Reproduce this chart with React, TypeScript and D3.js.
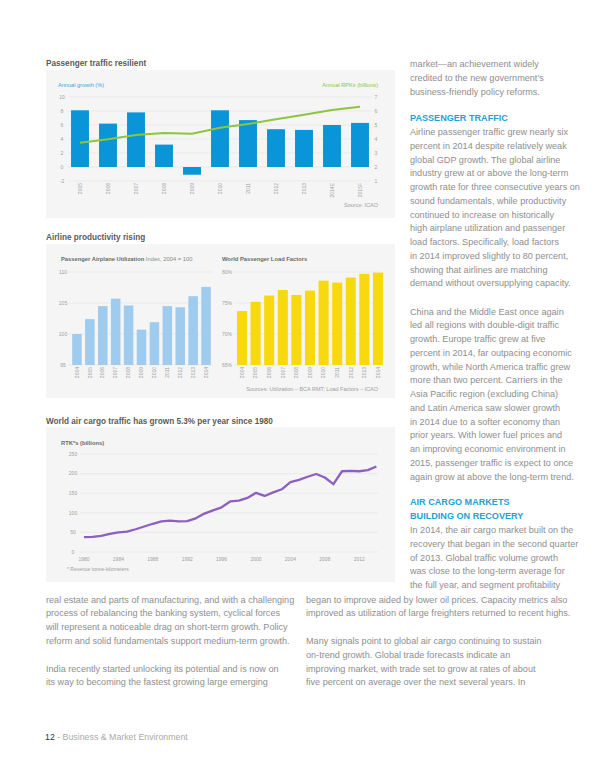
import React from 'react';
import * as d3 from 'd3';

// ---------- DATA ----------
const paxYears = ['2005', '2006', '2007', '2008', '2009', '2010', '2011', '2012', '2013', '2014E', '2015F'];
const paxGrowth = [8.1, 6.2, 7.8, 3.2, -1.1, 8.1, 6.7, 5.4, 5.3, 6.0, 6.3];
const paxRpks = [3.74, 3.98, 4.29, 4.43, 4.38, 4.81, 5.07, 5.41, 5.74, 6.07, 6.31];
const growthTicks = [10, 8, 6, 4, 2, 0, -2];
const rpkTicks = [7, 6, 5, 4, 3, 2, 1];

const utilYears = ['2004', '2005', '2006', '2007', '2008', '2009', '2010', '2011', '2012', '2013', '2014'];
const utilIndex = [100.0, 102.4, 104.5, 105.7, 104.6, 100.7, 101.9, 104.5, 104.3, 106.1, 107.6];
const utilTicks = [110, 105, 100, 95];
const loadYears = ['2004', '2005', '2006', '2007', '2008', '2009', '2010', '2011', '2012', '2013', '2014'];
const loadFactors = [73.7, 75.2, 76.2, 77.1, 76.3, 77.0, 78.6, 78.3, 79.1, 79.7, 79.9];
const loadTicks = [80, 75, 70, 65];

const cargoYears = [1980, 1981, 1982, 1983, 1984, 1985, 1986, 1987, 1988, 1989, 1990, 1991, 1992, 1993, 1994, 1995, 1996, 1997, 1998, 1999, 2000, 2001, 2002, 2003, 2004, 2005, 2006, 2007, 2008, 2009, 2010, 2011, 2012, 2013, 2014];
const cargoRtk = [38, 38.5, 41, 46, 50, 52, 58, 65, 72, 78, 80, 78, 79, 86, 98, 106, 114, 129, 131, 138, 151, 143, 152, 160, 178, 184, 192, 199, 190, 173, 206, 207, 206, 209, 218];
const cargoYTicks = [0, 50, 100, 150, 200, 250];
const cargoXTicks = [1980, 1984, 1988, 1992, 1996, 2000, 2004, 2008, 2012];

const rightParaA = [
  'market\u2014an achievement widely',
  'credited to the new government\u2019s',
  'business-friendly policy reforms.',
];
const rightHeadA = ['PASSENGER TRAFFIC'];
const rightParaB = [
  'Airline passenger traffic grew nearly six',
  'percent in 2014 despite relatively weak',
  'global GDP growth. The global airline',
  'industry grew at or above the long-term',
  'growth rate for three consecutive years on',
  'sound fundamentals, while productivity',
  'continued to increase on historically',
  'high airplane utilization and passenger',
  'load factors. Specifically, load factors',
  'in 2014 improved slightly to 80 percent,',
  'showing that airlines are matching',
  'demand without oversupplying capacity.',
];
const rightParaC = [
  'China and the Middle East once again',
  'led all regions with double-digit traffic',
  'growth. Europe traffic grew at five',
  'percent in 2014, far outpacing economic',
  'growth, while North America traffic grew',
  'more than two percent. Carriers in the',
  'Asia Pacific region (excluding China)',
  'and Latin America saw slower growth',
  'in 2014 due to a softer economy than',
  'prior years. With lower fuel prices and',
  'an improving economic environment in',
  '2015, passenger traffic is expect to once',
  'again grow at above the long-term trend.',
];
const rightHeadB = ['AIR CARGO MARKETS', 'BUILDING ON RECOVERY'];
const rightParaD = [
  'In 2014, the air cargo market built on the',
  'recovery that began in the second quarter',
  'of 2013. Global traffic volume growth',
  'was close to the long-term average for',
  'the full year, and segment profitability',
];
const bottomLeft = [
  'real estate and parts of manufacturing, and with a challenging',
  'process of rebalancing the banking system, cyclical forces',
  'will represent a noticeable drag on short-term growth. Policy',
  'reform and solid fundamentals support medium-term growth.',
  '',
  'India recently started unlocking its potential and is now on',
  'its way to becoming the fastest growing large emerging',
];
const bottomRight = [
  'began to improve aided by lower oil prices. Capacity metrics also',
  'improved as utilization of large freighters returned to recent highs.',
  '',
  'Many signals point to global air cargo continuing to sustain',
  'on-trend growth. Global trade forecasts indicate an',
  'improving market, with trade set to grow at rates of about',
  'five percent on average over the next several years. In',
];

// ---------- STYLE ----------
const FONT = '"Liberation Sans", Arial, Helvetica, sans-serif';
const BODY = '#8e8e8e';
const HEAD = '#22a2d4';
const PANEL = '#f5f5f5';
const GRID = '#e3e3e3';
const AXIS = '#a0a0a0';
const TITLE = '#5a5a5a';

function Lines({ lines, x, y, lh, size, fill, weight }: any) {
  return (
    <g>
      {lines.map((t: string, i: number) => (
        <text key={i} x={x} y={y + i * lh} fontSize={size} fill={fill} fontWeight={weight || 'normal'} fontFamily={FONT}>
          {t}
        </text>
      ))}
    </g>
  );
}

function PaxChart() {
  const x = d3.scaleBand().domain(paxYears).range([66, 374]).paddingInner(0.36).paddingOuter(0.18);
  const yL = d3.scaleLinear().domain([-2, 10]).range([181, 97]);
  const yR = d3.scaleLinear().domain([1, 7]).range([181, 97]);
  const line = d3
    .line<number>()
    .x((_, i) => (x(paxYears[i]) as number) + x.bandwidth() / 2)
    .y((d) => yR(d));
  return (
    <g>
      <text x={46} y={66} fontSize={8.2} fontWeight="bold" fill={TITLE} fontFamily={FONT}>
        Passenger traffic resilient
      </text>
      <rect x={46} y={70} width={349} height={148} fill={PANEL} />
      <text x={58} y={87} fontSize={5.6} fill="#3da2dc" fontFamily={FONT}>Annual growth (%)</text>
      <text x={378} y={87} fontSize={5.6} fill="#8cc63f" fontFamily={FONT} textAnchor="end">Annual RPKs (billions)</text>
      {growthTicks.map((t) => (
        <g key={t}>
          <line x1={68} x2={371} y1={yL(t)} y2={yL(t)} stroke={GRID} strokeWidth={0.6} />
          <text x={62} y={yL(t) + 1.8} fontSize={5} fill={AXIS} textAnchor="middle" fontFamily={FONT}>{t}</text>
        </g>
      ))}
      {rpkTicks.map((t) => (
        <text key={t} x={376} y={yR(t) + 1.8} fontSize={5} fill={AXIS} textAnchor="middle" fontFamily={FONT}>{t}</text>
      ))}
      {paxGrowth.map((v, i) => (
        <rect
          key={i}
          x={x(paxYears[i])}
          y={yL(Math.max(0, v))}
          width={x.bandwidth()}
          height={Math.abs(yL(v) - yL(0))}
          fill="#0a95d8"
        />
      ))}
      <path d={line(paxRpks) || ''} fill="none" stroke="#8cc63f" strokeWidth={2} />
      {paxYears.map((yr) => {
        const cx = (x(yr) as number) + x.bandwidth() / 2;
        return (
          <text key={yr} transform={`translate(${cx + 1.7},183) rotate(-90)`} fontSize={5} fill={AXIS} textAnchor="end" fontFamily={FONT}>
            {yr}
          </text>
        );
      })}
      <text x={378} y={207} fontSize={5.5} fill={AXIS} textAnchor="end" fontFamily={FONT}>Source: ICAO</text>
    </g>
  );
}

function ProductivityChart() {
  const xU = d3.scaleBand().domain(utilYears).range([70.5, 212.5]).paddingInner(0.26).paddingOuter(0.13);
  const yU = d3.scaleLinear().domain([95, 110]).range([365, 272]);
  const xF = d3.scaleBand().domain(loadYears).range([235.2, 384.8]).paddingInner(0.26).paddingOuter(0.13);
  const yF = d3.scaleLinear().domain([65, 80]).range([365, 272]);
  return (
    <g>
      <text x={46} y={240} fontSize={8.2} fontWeight="bold" fill={TITLE} fontFamily={FONT}>
        Airline productivity rising
      </text>
      <rect x={46} y={244} width={349} height={154} fill={PANEL} />
      <text x={61} y={261} fontSize={5.8} fill="#6a6a6a" fontFamily={FONT}>
        <tspan fontWeight="bold">Passenger Airplane Utilization</tspan>
        <tspan fill="#8a8a8a"> Index, 2004 = 100</tspan>
      </text>
      <text x={222} y={261} fontSize={5.8} fill="#6a6a6a" fontWeight="bold" fontFamily={FONT}>
        World Passenger Load Factors
      </text>
      {utilTicks.map((t) => (
        <g key={t}>
          <line x1={68} x2={212} y1={yU(t)} y2={yU(t)} stroke={GRID} strokeWidth={0.6} />
          <text x={63} y={yU(t) + 1.8} fontSize={5} fill={AXIS} textAnchor="middle" fontFamily={FONT}>{t}</text>
        </g>
      ))}
      {loadTicks.map((t) => (
        <g key={t}>
          <line x1={234} x2={380} y1={yF(t)} y2={yF(t)} stroke={GRID} strokeWidth={0.6} />
          <text x={222} y={yF(t) + 1.8} fontSize={5} fill={AXIS} textAnchor="start" fontFamily={FONT}>{t}%</text>
        </g>
      ))}
      {utilIndex.map((v, i) => (
        <rect key={i} x={xU(utilYears[i])} y={yU(v)} width={xU.bandwidth()} height={yU(95) - yU(v)} fill="#9fcbee" />
      ))}
      {loadFactors.map((v, i) => (
        <rect key={i} x={xF(loadYears[i])} y={yF(v)} width={xF.bandwidth()} height={yF(65) - yF(v)} fill="#f8d80f" />
      ))}
      {utilYears.map((yr) => {
        const cx = (xU(yr) as number) + xU.bandwidth() / 2;
        return (
          <text key={yr} transform={`translate(${cx + 1.7},367) rotate(-90)`} fontSize={5} fill={AXIS} textAnchor="end" fontFamily={FONT}>
            {yr}
          </text>
        );
      })}
      {loadYears.map((yr) => {
        const cx = (xF(yr) as number) + xF.bandwidth() / 2;
        return (
          <text key={yr} transform={`translate(${cx + 1.7},367) rotate(-90)`} fontSize={5} fill={AXIS} textAnchor="end" fontFamily={FONT}>
            {yr}
          </text>
        );
      })}
      <text x={378} y={391} fontSize={5.5} fill={AXIS} textAnchor="end" fontFamily={FONT}>
        Sources: Utilization – BCA RMT; Load Factors – ICAO
      </text>
    </g>
  );
}

function CargoChart() {
  const x = d3.scaleLinear().domain([1980, 2014]).range([84, 376.4]);
  const y = d3.scaleLinear().domain([0, 250]).range([552, 454]);
  const line = d3
    .line<number>()
    .x((_, i) => x(cargoYears[i]))
    .y((d) => y(d));
  return (
    <g>
      <text x={46} y={424} fontSize={8.2} fontWeight="bold" fill={TITLE} fontFamily={FONT}>
        World air cargo traffic has grown 5.3% per year since 1980
      </text>
      <rect x={46} y={427} width={349} height={155} fill={PANEL} />
      <text x={61} y={445} fontSize={5.8} fontWeight="bold" fill="#6a6a6a" fontFamily={FONT}>RTK*s (billions)</text>
      {cargoYTicks.map((t) => (
        <g key={t}>
          <line x1={80} x2={378} y1={y(t)} y2={y(t)} stroke={GRID} strokeWidth={0.6} />
          <text x={73} y={y(t) + 1.8} fontSize={5} fill={AXIS} textAnchor="middle" fontFamily={FONT}>{t}</text>
        </g>
      ))}
      {cargoXTicks.map((t) => (
        <text key={t} x={x(t)} y={561} fontSize={5} fill={AXIS} textAnchor="middle" fontFamily={FONT}>{t}</text>
      ))}
      <path d={line(cargoRtk) || ''} fill="none" stroke="#8d5fc0" strokeWidth={2.3} strokeLinejoin="round" />
      <text x={67} y={571} fontSize={5} fill={AXIS} fontFamily={FONT}>* Revenue tonne-kilometers</text>
    </g>
  );
}

export default function App() {
  const LH = 13.8;
  const FS = 9.1;
  return (
    <svg width={600} height={776} style={{ position: 'absolute', left: 0, top: 0, background: '#fff' }}>
      <rect x={0} y={0} width={600} height={776} fill="#fff" />
      <PaxChart />
      <ProductivityChart />
      <CargoChart />
      <Lines lines={rightParaA} x={410} y={67} lh={LH} size={FS} fill={BODY} />
      <Lines lines={rightHeadA} x={410} y={121} lh={LH} size={FS} fill={HEAD} weight="bold" />
      <Lines lines={rightParaB} x={410} y={135} lh={13.75} size={FS} fill={BODY} />
      <Lines lines={rightParaC} x={410} y={314.5} lh={13.75} size={FS} fill={BODY} />
      <Lines lines={rightHeadB} x={410} y={505} lh={LH} size={FS} fill={HEAD} weight="bold" />
      <Lines lines={rightParaD} x={410} y={533} lh={13.75} size={FS} fill={BODY} />
      <Lines lines={bottomLeft} x={46} y={602.5} lh={LH} size={FS} fill={BODY} />
      <Lines lines={bottomRight} x={306} y={602.5} lh={LH} size={FS} fill={BODY} />
      <text x={45} y={740} fontSize={8.8} fontFamily={FONT}>
        <tspan fill="#333">12</tspan>
        <tspan fill="#aaa"> - Business &amp; Market Environment</tspan>
      </text>
    </svg>
  );
}
